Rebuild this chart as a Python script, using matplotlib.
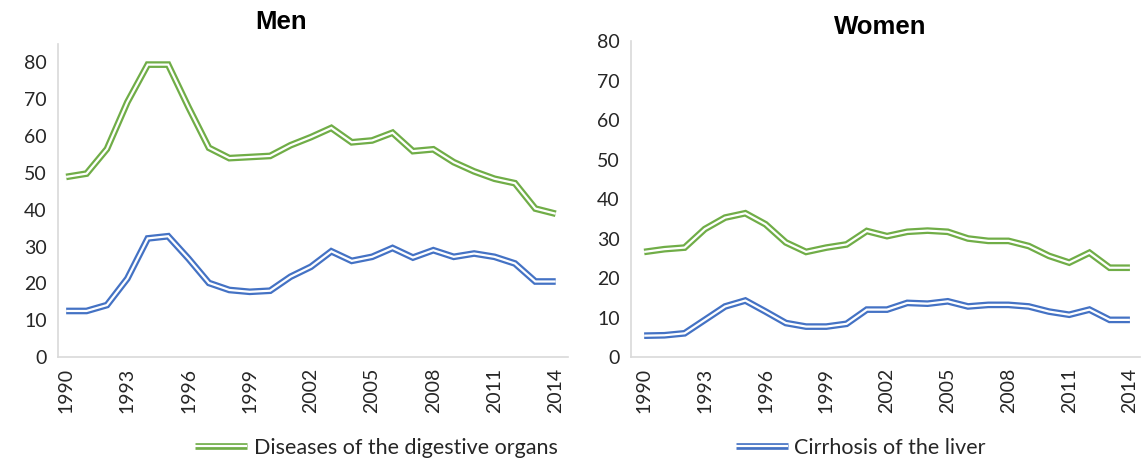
import matplotlib
matplotlib.use("Agg")
import matplotlib.pyplot as plt
from matplotlib.lines import Line2D

years = list(range(1990, 2015))
tick_years = list(range(1990, 2015, 3))

men_digestive = [48.9, 49.8, 56.5, 69.2, 79.4, 79.4, 67.8, 56.8, 54.0, 54.3, 54.6,
                 57.5, 59.7, 62.2, 58.3, 58.8, 60.9, 55.9, 56.4, 52.9, 50.4, 48.4,
                 47.2, 40.3, 38.9]
men_cirrhosis = [12.5, 12.5, 14.1, 21.3, 32.2, 32.8, 26.7, 20.1, 18.2, 17.7, 18.0,
                 21.8, 24.5, 28.7, 26.1, 27.2, 29.6, 27.0, 29.0, 27.2, 28.1, 27.2,
                 25.4, 20.5, 20.5]
women_digestive = [26.6, 27.3, 27.7, 32.4, 35.3, 36.4, 33.6, 29.0, 26.6, 27.7, 28.5,
                   31.9, 30.6, 31.7, 32.0, 31.7, 30.0, 29.4, 29.4, 28.1, 25.6, 23.9,
                   26.4, 22.6, 22.6]
women_cirrhosis = [5.4, 5.5, 6.0, 9.4, 12.8, 14.3, 11.5, 8.6, 7.7, 7.7, 8.4,
                   12.0, 12.0, 13.7, 13.5, 14.1, 12.8, 13.2, 13.2, 12.8, 11.5, 10.7,
                   12.0, 9.4, 9.4]

green = "#70AD47"
blue = "#4472C4"
text_col = "#262626"
outer_lw = 4.8
inner_lw = 1.6

plt.rcParams["font.family"] = ["Lato", "DejaVu Sans"]

fig = plt.figure(figsize=(11.46, 4.61), dpi=100)
ax_m = fig.add_axes([0.0506, 0.2256, 0.445, 0.679])
ax_w = fig.add_axes([0.5506, 0.2256, 0.4442, 0.6854])


def double_line(ax, y, color):
    ax.plot(years, y, color=color, lw=outer_lw, solid_joinstyle="miter",
            solid_capstyle="butt", zorder=2)
    ax.plot(years, y, color="white", lw=inner_lw, solid_joinstyle="miter",
            solid_capstyle="butt", zorder=3)


def style(ax, xlim, ylim):
    ax.set_xlim(*xlim)
    ax.set_ylim(*ylim)
    ax.set_yticks(range(0, 81, 10))
    ax.set_xticks(tick_years)
    ax.set_xticklabels([str(y) for y in tick_years], rotation=90)
    for s in ["top", "right"]:
        ax.spines[s].set_visible(False)
    for s in ["left", "bottom"]:
        ax.spines[s].set_color("#D9D9D9")
        ax.spines[s].set_linewidth(1.2)
    ax.tick_params(length=0, labelsize=14, colors=text_col, pad=8)


double_line(ax_m, men_digestive, green)
double_line(ax_m, men_cirrhosis, blue)
style(ax_m, (1989.6, 2014.6), (0, 85))

double_line(ax_w, women_digestive, green)
double_line(ax_w, women_cirrhosis, blue)
style(ax_w, (1989.35, 2014.5), (0, 80))

fig.text(281 / 1146, 1 - 22 / 461, "Men", ha="center", va="center",
         fontsize=18.5, fontweight="bold", family="Liberation Sans", color="black")
fig.text(880 / 1146, 1 - 27 / 461, "Women", ha="center", va="center",
         fontsize=18.5, fontweight="bold", family="Liberation Sans", color="black")


def handle(color):
    return (Line2D([], [], color=color, lw=outer_lw, solid_capstyle="butt"),
            Line2D([], [], color="white", lw=inner_lw, solid_capstyle="butt"))


fig.legend([handle(green)], ["Diseases of the digestive organs"],
           loc="center left", bbox_to_anchor=(176 / 1146, 1 - 448 / 461),
           frameon=False, fontsize=15.5, handlelength=2.4, handletextpad=0.3,
           labelcolor=text_col)
fig.legend([handle(blue)], ["Cirrhosis of the liver"],
           loc="center left", bbox_to_anchor=(717 / 1146, 1 - 448 / 461),
           frameon=False, fontsize=15.5, handlelength=2.4, handletextpad=0.3,
           labelcolor=text_col)

fig.savefig("out.png", dpi=100)
